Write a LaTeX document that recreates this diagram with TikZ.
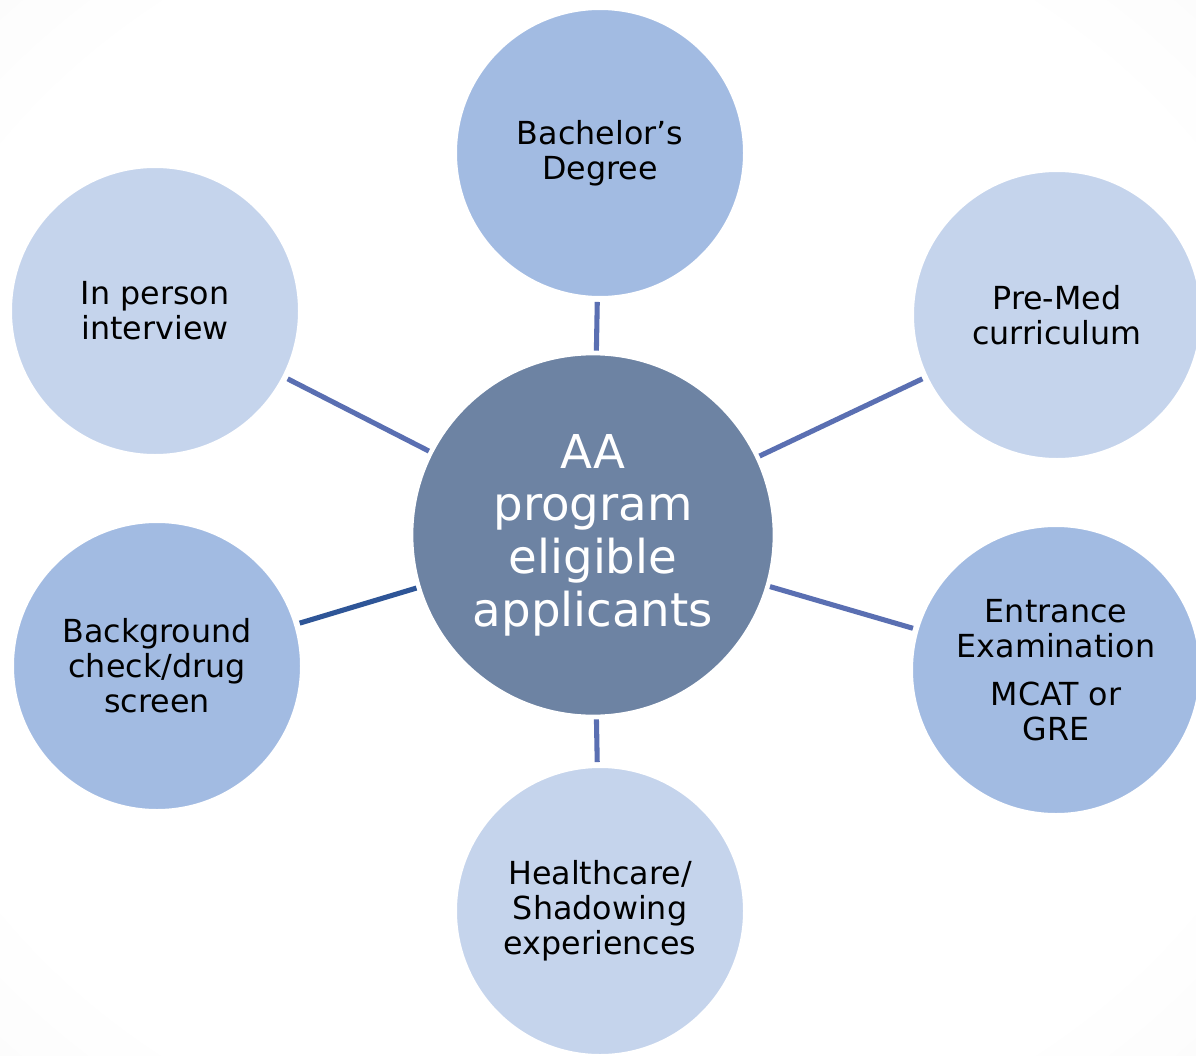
\documentclass[tikz,border=0pt]{standalone}
\usepackage{fontspec}
\setmainfont{DejaVu Sans}
\definecolor{hubblue}{HTML}{6D83A3}
\definecolor{paleblue}{HTML}{C5D4EC}
\definecolor{midblue}{HTML}{A2BBE2}
\definecolor{linkblue}{HTML}{5A6FB2}
\definecolor{darklink}{HTML}{2E5597}
\definecolor{edgegray}{HTML}{EEEEEE}
\pgfdeclareradialshading{paper}{\pgfpoint{0bp}{0bp}}{color(0bp)=(white); color(30bp)=(white); color(62bp)=(edgegray)}

\begin{document}
\begin{tikzpicture}[x=0.75pt,y=-0.75pt,
	bubble/.style={circle,draw=white,line width=1.5pt,minimum size=216pt,inner sep=0pt,align=center,font=\fontsize{23.8}{26.3}\selectfont},
	hub/.style={circle,draw=white,line width=1.5pt,fill=hubblue,text=white,minimum size=271pt,inner sep=0pt,align=center,font=\fontsize{35}{39.5}\selectfont},
	link/.style={draw=linkblue,line width=3.8pt,shorten <=2pt,shorten >=3pt}]
	\clip (0,0) rectangle (1196,1056);
	\shade[shading=paper] (0,0) rectangle (1196,1056);
	% hub and the six requirements round it
	\node[hub] (aa) at (593,535) {AA\\program\\eligible\\applicants};
	\node[bubble,fill=midblue] (degree) at (600,153) {Bachelor’s\\Degree};
	\node[bubble,fill=paleblue] (premed) at (1057,315) {Pre-Med\\curriculum};
	\node[bubble,fill=midblue] (exam) at (1056,670) {Entrance\\Examination\\[10pt]MCAT or\\GRE};
	\node[bubble,fill=paleblue] (shadow) at (600,911) {Healthcare/\\Shadowing\\experiences};
	\node[bubble,fill=midblue] (check) at (157,666) {Background\\check/drug\\screen};
	\node[bubble,fill=paleblue] (interview) at (155,311) {In person\\interview};
	\draw[link] (aa) -- (degree);
	\draw[link] (aa) -- (premed);
	\draw[link] (aa) -- (exam);
	\draw[link] (aa) -- (shadow);
	\draw[link,draw=darklink] (aa) -- (check);
	\draw[link] (aa) -- (interview);
\end{tikzpicture}
\end{document}
